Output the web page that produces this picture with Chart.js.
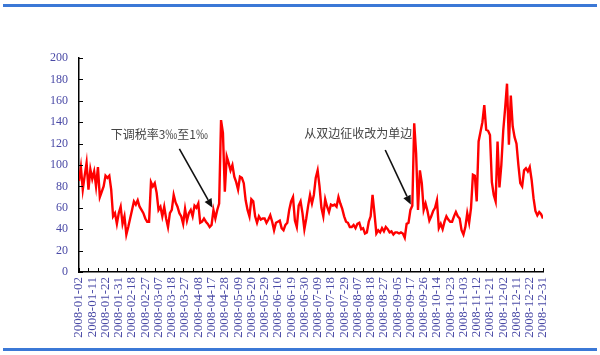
<!DOCTYPE html>
<html><head><meta charset="utf-8">
<script src="https://cdn.jsdelivr.net/npm/chart.js@4/dist/chart.umd.min.js"></script>
<style>html,body{margin:0;padding:0;background:#fff}canvas{display:block}</style>
</head><body>
<canvas id="c" width="600" height="355"></canvas>
<script>
// x-axis tick labels (one every 7 trading days)
const xTickLabels = ['2008-01-02','2008-01-11','2008-01-22','2008-01-31','2008-02-18','2008-02-27','2008-03-07','2008-03-18','2008-03-27','2008-04-08','2008-04-17','2008-04-28','2008-05-09','2008-05-20','2008-05-29','2008-06-10','2008-06-19','2008-06-30','2008-07-09','2008-07-18','2008-07-29','2008-08-07','2008-08-18','2008-08-27','2008-09-05','2008-09-17','2008-09-26','2008-10-14','2008-10-23','2008-11-03','2008-11-12','2008-11-21','2008-12-02','2008-12-11','2008-12-22','2008-12-31'];
const labelEvery = 7;
// daily values, one per trading day (246 days)
const values = [
 85, 98, 77, 90,102, 77, 96, 87, 94, 80,
 98, 70, 75, 80, 90, 88, 90, 77, 52, 55,
 45, 55, 61, 45, 52, 35, 42, 50, 58, 66,
 63, 67, 61, 58, 55, 50, 47, 47, 84, 80,
 83, 74, 58, 61, 52, 61, 50, 42, 55, 58,
 72, 65, 61, 55, 52, 45, 59, 48, 55, 58,
 52, 62, 60, 64, 46, 47, 50, 47, 45, 42,
 44, 58, 50, 58, 64,142,130, 75,108,102,
 95,100, 89, 84, 77, 89, 88, 83, 67, 58,
 52, 68, 66, 52, 46, 52, 49, 50, 50, 46,
 49, 53, 47, 39, 46, 47, 48, 41, 39, 44,
 46, 58, 66, 70, 48, 42, 62, 66, 55, 40,
 50, 62, 72, 64, 72, 88, 95, 80, 60, 52,
 68, 61, 56, 63, 62, 63, 61, 70, 64, 59,
 52, 47, 46, 42, 42, 44, 41, 45, 46, 40,
 41, 36, 37, 47, 52, 72, 55, 36, 39, 37,
 41, 38, 42, 40, 37, 38, 35, 37, 37, 36,
 37, 36, 32, 45, 46, 58, 62,139,111, 58,
 95, 83, 58, 64, 57, 48, 52, 57, 60, 67,
 41, 45, 40, 47, 52, 49, 47, 47, 52, 56,
 52, 50, 39, 35, 42, 55, 46, 60, 91, 90,
 66,122,131,140,156,133,132,128, 84, 72,
 66,122, 79,100,132,153,176,119,165,136,
126,120,100, 83, 80, 95, 97, 94, 98, 86,
 69, 57, 53, 56, 54, 50
];
const yMin = 0, yMax = 200, yStep = 20;
// annotations (in data coordinates: day index, value)
const noteTexts = ['下调税率3‰至1‰', '从双边征收改为单边'];
const noteAnchors = [
  {tx:42.4, ty:129, fx:53, fy:115, ax:70.5, ay:60},
  {tx:147.4, ty:129.5, fx:161.7, fy:114, ax:175.2, ay:63}
];

const deco = {
  id:'deco',
  beforeDraw(chart){
    const c = chart.ctx; c.save();
    c.fillStyle = '#fff'; c.fillRect(0,0,chart.width,chart.height);
    c.fillStyle = '#3b78d6';
    c.fillRect(3,4,594,3);
    c.fillRect(3,348,594,3);
    c.restore();
  },
  afterDraw(chart){
    const c = chart.ctx, xs = chart.scales.x, ys = chart.scales.y, a = chart.chartArea;
    c.save();
    c.strokeStyle = '#000'; c.lineWidth = 1;
    for (let v = yMin; v <= yMax; v += yStep) {
      const y = Math.round(ys.getPixelForValue(v)) + 0.5;
      c.beginPath(); c.moveTo(a.left, y); c.lineTo(a.left + 4, y); c.stroke();
    }
    for (let k = 0; k < values.length; k += 5) {
      const x = Math.round(xs.getPixelForValue(k)) + 0.5;
      c.beginPath(); c.moveTo(x, a.bottom); c.lineTo(x, a.bottom - 4); c.stroke();
    }
    // annotations
    c.font = '12px "Noto Sans CJK SC"';
    c.fillStyle = '#444'; c.textAlign = 'center'; c.textBaseline = 'middle';
    noteAnchors.forEach((n, i) => {
      c.fillText(noteTexts[i], xs.getPixelForValue(n.tx), ys.getPixelForValue(n.ty));
      const x1 = xs.getPixelForValue(n.fx), y1 = ys.getPixelForValue(n.fy);
      const x2 = xs.getPixelForValue(n.ax), y2 = ys.getPixelForValue(n.ay);
      const ang = Math.atan2(y2 - y1, x2 - x1), L = 9, W = 4;
      c.strokeStyle = '#111'; c.lineWidth = 1.6;
      c.beginPath(); c.moveTo(x1, y1);
      c.lineTo(x2 - L * Math.cos(ang), y2 - L * Math.sin(ang)); c.stroke();
      c.fillStyle = '#111';
      c.beginPath(); c.moveTo(x2, y2);
      c.lineTo(x2 - L*Math.cos(ang) + W*Math.sin(ang), y2 - L*Math.sin(ang) - W*Math.cos(ang));
      c.lineTo(x2 - L*Math.cos(ang) - W*Math.sin(ang), y2 - L*Math.sin(ang) + W*Math.cos(ang));
      c.closePath(); c.fill();
      c.fillStyle = '#444';
    });
    c.restore();
  }
};

new Chart(document.getElementById('c'), {
  type:'line',
  data:{
    datasets:[{
      data: values.map((v, i) => ({x:i, y:v})),
      borderColor:'#ff0000', borderWidth:2.4, pointRadius:0, tension:0, fill:false
    }]
  },
  options:{
    responsive:false, devicePixelRatio:1, animation:false,
    layout:{padding:{top:58, right:57, left:0, bottom:0}},
    plugins:{legend:{display:false}, tooltip:{enabled:false}},
    scales:{
      x:{
        type:'linear', min:0, max:values.length - 1,
        afterBuildTicks: s => { s.ticks = xTickLabels.map((_, k) => ({value:k * labelEvery})); },
        afterFit: s => { s.height = 83; },
        grid:{display:true, drawOnChartArea:false, drawTicks:false},
        border:{display:true, color:'#000', width:1.5},
        ticks:{
          autoSkip:false, minRotation:90, maxRotation:90, padding:5,
          color:'#4a4aa6', font:{family:'"Liberation Serif"', size:13},
          callback: (v) => xTickLabels[Math.round(v / labelEvery)]
        }
      },
      y:{
        min:yMin, max:yMax,
        afterFit: s => { s.width = 79; },
        grid:{display:true, drawOnChartArea:false, drawTicks:false},
        border:{display:true, color:'#000', width:1.5},
        ticks:{stepSize:yStep, padding:11, color:'#4a4aa6', font:{family:'"Liberation Serif"', size:12}}
      }
    }
  },
  plugins:[deco]
});
</script>
</body></html>
